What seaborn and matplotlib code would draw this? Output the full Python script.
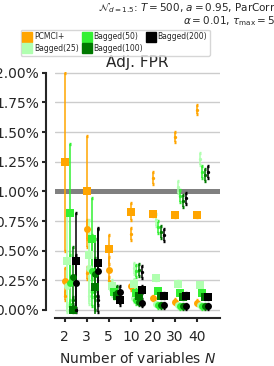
import numpy as np
import matplotlib
matplotlib.use("Agg")
import matplotlib.pyplot as plt
from matplotlib.lines import Line2D
from matplotlib.ticker import PercentFormatter
import seaborn as sns

# Data (in %)
n_vars = [2, 3, 5, 10, 20, 30, 40]
methods = ['PCMCI+', 'Bagged(25)', 'Bagged(50)', 'Bagged(100)', 'Bagged(200)']
colors = ['#ffa500', '#b0ffb0', '#33f033', '#007800', '#000000']

# square markers (one list per method, order of `methods`)
sq_mean = [
    [1.25, 1.00, 0.51, 0.83, 0.81, 0.80, 0.80],
    [0.41, 0.46, 0.20, 0.22, 0.27, 0.22, 0.21],
    [0.82, 0.60, 0.15, 0.14, 0.16, 0.14, 0.14],
    [0.00, 0.19, 0.12, 0.12, 0.12, 0.11, 0.11],
    [0.41, 0.40, 0.08, 0.17, 0.12, 0.12, 0.11],
]
sq_err = [
    [0.75, 0.47, 0.12, 0.07, 0.02, 0.02, 0.02],
    [0.43, 0.30, 0.05, 0.04, 0.02, 0.02, 0.02],
    [0.58, 0.34, 0.05, 0.04, 0.02, 0.02, 0.02],
    [0.02, 0.25, 0.04, 0.03, 0.02, 0.02, 0.02],
    [0.41, 0.29, 0.04, 0.03, 0.02, 0.02, 0.02],
]
# circle markers
ci_mean = [
    [0.24, 0.68, 0.34, 0.20, 0.10, 0.07, 0.06],
    [0.20, 0.35, 0.18, 0.10, 0.05, 0.04, 0.04],
    [0.23, 0.33, 0.15, 0.08, 0.04, 0.03, 0.03],
    [0.28, 0.30, 0.14, 0.07, 0.04, 0.03, 0.03],
    [0.23, 0.33, 0.15, 0.06, 0.04, 0.03, 0.03],
]
ci_err = [
    [0.11, 0.08, 0.11, 0.03, 0.02, 0.02, 0.02],
    [0.20, 0.30, 0.05, 0.03, 0.02, 0.02, 0.02],
    [0.23, 0.30, 0.05, 0.03, 0.02, 0.02, 0.02],
    [0.25, 0.30, 0.05, 0.03, 0.02, 0.02, 0.02],
    [0.23, 0.35, 0.05, 0.03, 0.02, 0.02, 0.02],
]
# small markers
sm_mean = [
    [0.12, 0.31, 0.24, 0.64, 1.11, 1.46, 1.69],
    [0.03, 0.12, 0.16, 0.35, 0.76, 1.04, 1.27],
    [0.05, 0.15, 0.17, 0.33, 0.70, 0.96, 1.16],
    [0.08, 0.12, 0.16, 0.34, 0.66, 0.92, 1.14],
    [0.00, 0.08, 0.11, 0.32, 0.63, 0.94, 1.16],
]
sm_err = [
    [0.04, 0.05, 0.04, 0.05, 0.05, 0.04, 0.04],
    [0.03, 0.04, 0.04, 0.05, 0.05, 0.05, 0.05],
    [0.03, 0.04, 0.04, 0.05, 0.05, 0.05, 0.05],
    [0.03, 0.04, 0.04, 0.05, 0.05, 0.05, 0.05],
    [0.02, 0.04, 0.04, 0.05, 0.05, 0.05, 0.05],
]

sns.set_style("ticks")
plt.rcParams['font.family'] = ['DejaVu Sans']

fig = plt.figure(figsize=(2.74, 3.66), dpi=100)
ax = fig.add_axes([0.2, 0.1434, 0.603, 0.661])

xpos = np.arange(len(n_vars))
offsets = np.linspace(0, 0.5, len(methods))

ax.axhline(1.0, color='#808080', lw=3.6, solid_capstyle='projecting', zorder=1)

for i, (m, c) in enumerate(zip(methods, colors)):
    x = xpos + offsets[i]
    for mean, err, mk, ms in [(sq_mean[i], sq_err[i], 's', 5.6),
                              (ci_mean[i], ci_err[i], 'o', 5.0),
                              (sm_mean[i], sm_err[i], 'o', 2.4)]:
        ax.errorbar(x, mean, yerr=err, fmt='none', ecolor=c, elinewidth=1.1,
                    capsize=1.0, capthick=2.4, zorder=2 + i * 0.1)
        sns.scatterplot(x=x, y=mean, marker=mk, s=ms ** 2, color=c,
                        linewidth=0, ax=ax, zorder=3 + i * 0.1, legend=False)

ax.set_xlim(-0.45, 7.05)
ax.set_ylim(-0.03, 2.01)
ax.set_xticks(xpos)
ax.set_xticklabels([str(n) for n in n_vars], fontsize=10)
ax.set_yticks(np.arange(0, 2.01, 0.25))
ax.yaxis.set_major_formatter(PercentFormatter(xmax=100, decimals=2))
ax.tick_params(axis='y', labelsize=10, length=3, width=1.5, pad=2)
ax.tick_params(axis='x', length=3, width=1.5, pad=6)
ax.yaxis.grid(True, color='#cccccc', lw=1.0)
ax.set_axisbelow(True)

sns.despine(ax=ax, offset={'left': 6.5, 'bottom': 3.2})
ax.spines['left'].set_bounds(0, 2.0)
ax.spines['left'].set_linewidth(1.5)
ax.spines['bottom'].set_linewidth(1.5)

ax.set_title('Adj. FPR', fontsize=11, pad=3)
ax.set_xlabel('Number of variables $N$', fontsize=10, labelpad=5)

handles = [Line2D([], [], marker='s', color=c, ls='none', markersize=7)
           for c in colors]
fig.legend(handles, methods, loc='upper left', bbox_to_anchor=(17 / 274, 1 - 26 / 366),
           ncol=3, fontsize=5.5, frameon=True, handletextpad=0.4, columnspacing=0.5,
           borderpad=0.35, labelspacing=0.35, handlelength=1.0)

fig.text(1.005, 0.997, r'$\mathcal{N}_{d=1.5}$: $T=500$, $a=0.95$, ParCorr',
         ha='right', va='top', fontsize=7.5)
fig.text(1.005, 0.962, r'$\alpha=0.01$, $\tau_{\max}=5$',
         ha='right', va='top', fontsize=7.5)

fig.savefig('out.png', dpi=100)
